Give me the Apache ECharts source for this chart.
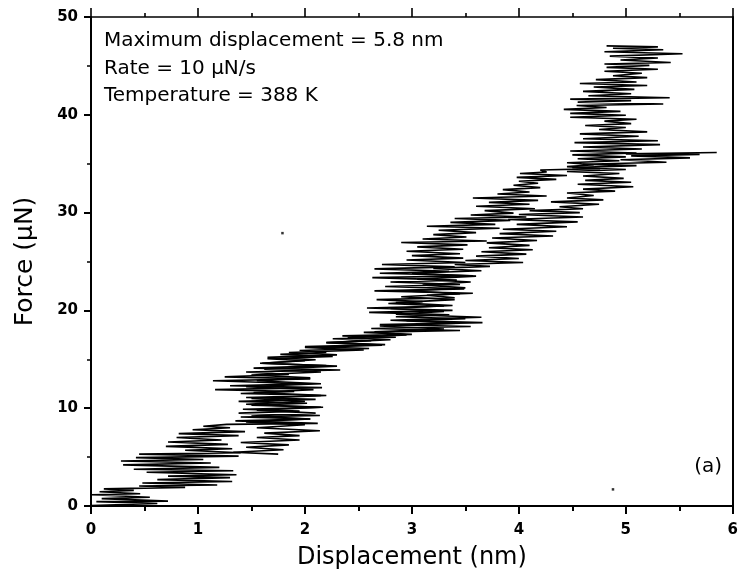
<!DOCTYPE html>
<html>
<head>
<meta charset="utf-8">
<script src="https://cdn.jsdelivr.net/npm/echarts@6/dist/echarts.min.js"></script>
<style>
html,body{margin:0;padding:0;background:#fff;}
#chart{width:741px;height:579px;}
</style>
</head>
<body>
<div id="chart"></div>
<script>
// ---- data ----
const xTicks = [0, 1, 2, 3, 4, 5, 6];
const yTicks = [0, 10, 20, 30, 40, 50];
const annotations = ["Maximum displacement = 5.8 nm", "Rate = 10 \u03bcN/s", "Temperature = 388 K"];
const panelLabel = "(a)";

// loading trace (left / main band), zig-zag points in order
const dispUp = [0.02,0.00,0.62,0.05,0.72,0.10,0.55,0.00,0.46,0.08,0.40,0.12,0.88,0.45,1.18,0.48,1.32,0.62,1.30,0.72,1.36,0.52,1.33,0.40,1.20,0.30,1.12,0.28,1.05,0.42,1.38,0.45,1.40,0.88,1.32,0.70,1.28,0.72,1.22,0.80,1.38,0.82,1.44,0.95,1.30,1.05,
  1.27,2.12,1.35,2.05,1.40,2.14,1.38,1.95,1.42,2.17,1.50,2.02,1.38,2.10,1.45,2.15,1.40,1.90,1.16,2.16,1.30,2.00,1.14,2.05,1.25,1.85,1.45,2.33,1.52,2.20,1.58,2.00,1.65,2.26,1.77,2.20,1.95,2.60,2.00,2.75,2.20,2.62,2.26,2.85,2.35,3.00,2.55,3.45,2.62,3.55,2.70,3.66,2.95,3.50,2.85,3.35,2.60,3.38,2.58,3.30,2.78,3.10,2.67,3.40,3.14,3.57,2.65,3.49,2.75,3.45,2.80,3.42,2.63,3.57,2.70,3.35,2.65,3.40,2.72,3.50,2.95,3.48,3.00,3.45,2.95,3.48,3.05,3.52,2.90,3.70,3.10,3.51,3.20,3.60,3.25,3.82,3.14,3.78,3.36,3.92,3.40,4.07,3.55,3.95,3.68,4.15,3.60,4.10,3.72,4.18,3.57,4.26,3.80,4.10,3.85,4.20,3.95,4.18,4.00,4.35,3.98,4.45,4.01,4.26,4.20,4.76,4.45,4.70,4.45,4.94,4.55,5.00,4.50,5.10,4.48,5.15,4.60,5.32,4.52,5.30,4.60,5.12,4.57,5.20,4.75,5.00,4.62,5.05,4.80,5.10,4.48,5.00,4.48,4.95,4.42,4.82,4.54,5.35,4.55,5.05,4.48,5.41,4.65,5.05,4.60,5.08,4.70,5.20,4.57,5.10,4.72,5.20,4.88,5.15,4.80,5.30,4.82,5.22,4.80,5.42,4.95,5.30,4.85,5.53,4.80,5.35,4.88,5.30,4.82];
const forceUp = [0.00,0.05,0.25,0.45,0.50,0.75,0.90,1.15,1.25,1.45,1.60,1.75,1.90,2.05,2.15,2.35,2.50,2.70,2.90,3.05,3.20,3.45,3.60,3.75,3.95,4.20,4.40,4.60,4.75,4.95,5.10,5.30,5.45,5.70,5.85,6.10,6.30,6.55,6.75,7.00,7.20,7.40,7.60,7.80,8.00,8.15,
  8.35,8.45,8.70,8.90,9.10,9.25,9.50,9.70,9.90,10.10,10.30,10.50,10.70,10.90,11.10,11.30,11.50,11.70,11.90,12.10,12.30,12.50,12.80,13.00,13.20,13.45,13.70,13.90,14.10,14.35,14.60,14.85,15.05,15.30,15.50,15.70,15.90,16.10,16.30,16.50,16.70,16.90,17.10,17.25,17.40,17.55,17.75,17.95,18.15,18.35,18.55,18.75,18.95,19.15,19.35,19.55,19.80,20.00,20.25,20.45,20.70,20.90,21.10,21.30,21.55,21.75,22.00,22.20,22.45,22.65,22.90,23.10,23.35,23.55,23.80,24.00,24.25,24.45,24.70,24.90,25.15,25.35,25.60,25.80,26.05,26.25,26.50,26.70,26.95,27.10,27.30,27.50,27.75,27.95,28.20,28.40,28.60,28.80,29.00,29.20,29.40,29.55,29.75,29.95,30.20,30.40,30.65,30.85,31.05,31.25,31.50,31.70,31.90,32.10,32.35,32.55,32.80,33.00,33.20,33.40,33.60,33.80,34.00,34.15,34.35,34.50,34.70,34.90,35.10,35.30,35.50,35.70,35.90,36.10,36.30,36.50,36.70,36.95,37.15,37.35,37.55,37.80,38.05,38.25,38.50,38.70,38.90,39.10,39.35,39.55,39.75,39.95,40.15,40.35,40.55,40.75,40.95,41.10,41.30,41.45,41.60,41.75,41.95,42.15,42.40,42.60,42.85,43.00,43.20,43.35,43.60,43.80,44.00,44.25,44.45,44.65,44.85,45.05,45.20,45.35,45.60,45.80,46.00,46.25,46.45,46.65,46.80,46.95,47.05];

// second trace (right band), points in order from top to bottom
const dispDown = [5.85,5.00,5.69,5.05,5.60,4.95,5.38,4.60,5.10,4.50,5.00,4.45,4.94,4.60,4.98,4.62,5.05,4.55,5.07,4.60,4.90,4.45,4.70,4.45,4.79,4.30,4.75,4.38,4.60,4.10,4.57,4.00,4.60,3.90,4.55,3.98,4.45,3.85,4.35,3.82,4.32,3.75,4.17,3.70,4.10,3.72,4.13,3.65,4.07,3.60,4.00,3.50,4.04,3.40,3.73,3.20,3.65,3.00,3.60,3.05,3.55,3.10,3.50,2.95,3.45,2.90,3.40,2.85,3.38,2.80,3.30,2.85,3.65,2.80,3.45,2.70,3.30,2.65,2.95,2.40,2.80,2.20,2.72,2.00,2.55,1.85,2.30,1.65,2.10,1.60,2.30,1.62,2.15,1.50,2.05,1.55,2.15,1.45,2.08,1.52,2.20,1.50,2.00,1.45,2.15,1.55,2.10,1.50,2.05,1.45,2.00,1.55,2.14,1.62,1.95,1.55,1.95,1.40,1.85,1.45,1.80,1.33,1.75];
const forceDown = [36.15,36.00,35.95,35.80,35.60,35.40,35.15,34.95,34.80,34.60,34.40,34.20,34.00,33.75,33.50,33.30,33.10,32.90,32.65,32.40,32.20,32.00,31.75,31.50,31.30,31.10,30.85,30.60,30.40,30.20,30.00,29.80,29.55,29.30,29.05,28.80,28.55,28.30,28.10,27.85,27.60,27.40,27.15,26.90,26.65,26.40,26.20,26.00,25.75,25.55,25.30,25.10,24.90,24.70,24.50,24.30,24.05,23.80,23.50,23.20,22.90,22.60,22.30,22.00,21.70,21.40,21.10,20.80,20.50,20.20,19.90,19.60,19.30,19.00,18.70,18.40,18.10,17.80,17.50,17.20,17.00,16.70,16.45,16.20,15.95,15.70,15.45,15.20,14.95,14.60,14.30,14.00,13.70,13.40,13.10,12.80,12.50,12.20,11.90,11.60,11.30,11.00,10.70,10.40,10.10,9.80,9.50,9.20,8.90,8.60,8.30,8.00,7.70,7.45,7.20,7.00,6.75,6.50,6.25,6.00,5.75,5.50,5.30];

// stray specks in the scan
const speckDisp = [4.88, 1.79];
const speckForce = [1.7, 27.9];

// ---- chart ----
const chart = echarts.init(document.getElementById('chart'), null, {renderer: 'canvas'});
const toPairs = (xs, ys) => xs.map((x, i) => [x, ys[i]]);
const FONT = 'DejaVu Sans';

const option = {
  animation: false,
  backgroundColor: '#fff',
  grid: {left: 91, right: 7, top: 17, bottom: 73},
  xAxis: [{
    type: 'value', position: 'bottom',
    min: xTicks[0], max: xTicks[xTicks.length - 1], interval: 1,
    name: 'Displacement (nm)', nameLocation: 'middle', nameGap: 40,
    nameTextStyle: {fontFamily: FONT, fontSize: 24, color: '#000'},
    axisLine: {onZero: false, lineStyle: {color: '#000', width: 2}},
    axisTick: {show: true, inside: false, length: 8, lineStyle: {color: '#000', width: 2}},
    minorTick: {show: true, splitNumber: 2, length: 5, lineStyle: {color: '#000', width: 2}},
    splitLine: {show: false},
    axisLabel: {fontFamily: FONT, fontWeight: 'bold', fontSize: 15, color: '#000', margin: 17}
  }, {
    type: 'value', position: 'top',
    min: xTicks[0], max: xTicks[xTicks.length - 1], interval: 1,
    axisLine: {onZero: false, lineStyle: {color: '#000', width: 1.6}},
    axisTick: {show: true, inside: false, length: 9, lineStyle: {color: '#000', width: 1.6}},
    minorTick: {show: true, splitNumber: 2, length: 4, lineStyle: {color: '#000', width: 1.6}},
    splitLine: {show: false},
    axisLabel: {show: false}
  }],
  yAxis: [{
    type: 'value', position: 'left',
    min: yTicks[0], max: yTicks[yTicks.length - 1], interval: 10,
    name: 'Force (\u03bcN)', nameLocation: 'middle', nameGap: 53,
    nameTextStyle: {fontFamily: FONT, fontSize: 25, color: '#000'},
    axisLine: {onZero: false, lineStyle: {color: '#000', width: 2}},
    axisTick: {show: true, inside: false, length: 7, lineStyle: {color: '#000', width: 2}},
    minorTick: {show: true, splitNumber: 2, length: 4, lineStyle: {color: '#000', width: 1.5}},
    splitLine: {show: false},
    axisLabel: {fontFamily: FONT, fontWeight: 'bold', fontSize: 15, color: '#000', margin: 13}
  }, {
    type: 'value', position: 'right',
    min: yTicks[0], max: yTicks[yTicks.length - 1], interval: 10,
    axisLine: {onZero: false, lineStyle: {color: '#000', width: 2}},
    axisTick: {show: false},
    splitLine: {show: false},
    axisLabel: {show: false}
  }],
  series: [{
    type: 'line', xAxisIndex: 0, yAxisIndex: 0,
    data: toPairs(dispUp, forceUp),
    showSymbol: false, symbol: 'none',
    lineStyle: {color: '#000', width: 1.6},
    z: 3
  }, {
    type: 'line', xAxisIndex: 0, yAxisIndex: 0,
    data: toPairs(dispDown, forceDown),
    showSymbol: false, symbol: 'none',
    lineStyle: {color: '#000', width: 1.6},
    z: 3
  }, {
    type: 'scatter', xAxisIndex: 0, yAxisIndex: 0,
    data: toPairs(speckDisp, speckForce),
    symbol: 'rect', symbolSize: 2.5,
    itemStyle: {color: '#000'}
  }],
  graphic: [
    ...annotations.map((t, i) => ({
      type: 'text', x: 104, y: 41 + i * 27.5,
      style: {text: t, fontFamily: FONT, fontSize: 20, fill: '#000', verticalAlign: 'middle', align: 'left'}
    })),
    {type: 'text', x: 722, y: 467,
     style: {text: panelLabel, fontFamily: FONT, fontSize: 20, fill: '#000', verticalAlign: 'middle', align: 'right'}}
  ]
};
chart.setOption(option);
</script>
</body>
</html>
